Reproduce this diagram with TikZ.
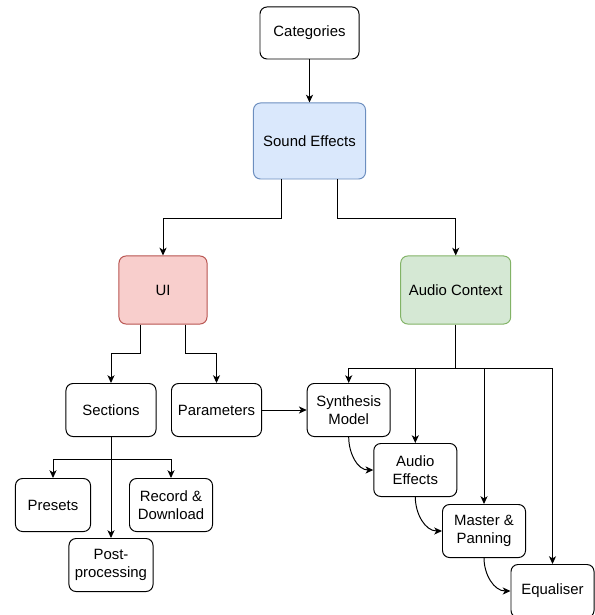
\documentclass[tikz,border=0pt]{standalone}
\usepackage{fontspec}
\setmainfont{Liberation Sans}
\usepackage{tikz}
\usetikzlibrary{arrows.meta}
\usetikzlibrary{calc}

\definecolor{bluefill}{HTML}{DAE8FC}
\definecolor{blueline}{HTML}{6C8EBF}
\definecolor{redfill}{HTML}{F8CECC}
\definecolor{redline}{HTML}{B85450}
\definecolor{greenfill}{HTML}{D5E8D4}
\definecolor{greenline}{HTML}{82B366}

\begin{document}
\begin{tikzpicture}
	 [> = {Stealth[length=5.5pt, width=5pt, inset=1.5pt]},
	x=0.025cm, y=-0.025cm, line width=0.7pt,
	every node/.style={font=\fontsize{10.6}{12.8}\selectfont},
	box/.style = {draw, rounded corners=5pt, align=center, inner sep=0pt, minimum height=1.325cm},
	blue box/.style = {box, fill=bluefill, draw=blueline},
	red box/.style = {box, fill=redfill, draw=redline},
	green box/.style = {box, fill=greenfill, draw=greenline}
	]
	\useasboundingbox (0,0) rectangle (594,615);

	\node[box, minimum width=2.475cm, minimum height=1.3cm] (cat) at (309.5,33) {Categories};
	\node[blue box, minimum width=2.8cm, minimum height=1.9cm] (sfx) at (309.5,141) {Sound Effects};
	\node[red box, minimum width=2.2cm, minimum height=1.7cm] (ui) at (163,290) {UI};
	\node[green box, minimum width=2.75cm, minimum height=1.7cm] (actx) at (455.7,290) {Audio Context};

	\node[box, minimum width=2.25cm] (sect) at (111,410) {Sections};
	\node[box, minimum width=2.25cm] (param) at (216.5,410) {Parameters};
	\node[box, minimum width=1.875cm] (presets) at (53,505) {Presets};
	\node[box, minimum width=2.075cm] (record) at (171,505) {Record \&\\Download};
	\node[box, minimum width=2.1cm] (post) at (111,565) {Post-\\processing};

	\node[box, minimum width=2.075cm] (synth) at (348.7,410) {Synthesis\\Model};
	\node[box, minimum width=2.075cm] (afx) at (415.3,470) {Audio\\Effects};
	\node[box, minimum width=2.075cm] (master) at (484,531) {Master \&\\Panning};
	\node[box, minimum width=2.075cm] (eq) at (552.5,591) {Equaliser};

	\coordinate (acbus) at (455.7,368.3);

	\draw[->] (cat) -- (sfx);
	\draw[->] ([xshift=-0.7cm]sfx.south) -- ++(0,39) -| (ui.north);
	\draw[->] ([xshift=0.7cm]sfx.south) -- ++(0,39) -| (actx.north);

	\draw[->] ([xshift=-0.56cm]ui.south) -- ++(0,29) -| (sect.north);
	\draw[->] ([xshift=0.55cm]ui.south) -- ++(0,29) -| (param.north);

	\draw[->] (sect.south) -- ++(0,22) -| (presets.north);
	\draw[->] (sect.south) -- ++(0,22) -| (record.north);
	\draw[->] (sect) -- (post);

	\draw (actx.south) -- (acbus);
	\foreach \n in {synth,afx,master,eq}
		\draw[->] (acbus) -| (\n.north);

	\draw[->] (param) -- (synth);
	\draw[->] (synth.south) to[out=-90,in=180] (afx.west);
	\draw[->] (afx.south) to[out=-90,in=180] (master.west);
	\draw[->] (master.south) to[out=-90,in=180] (eq.west);
\end{tikzpicture}
\end{document}
